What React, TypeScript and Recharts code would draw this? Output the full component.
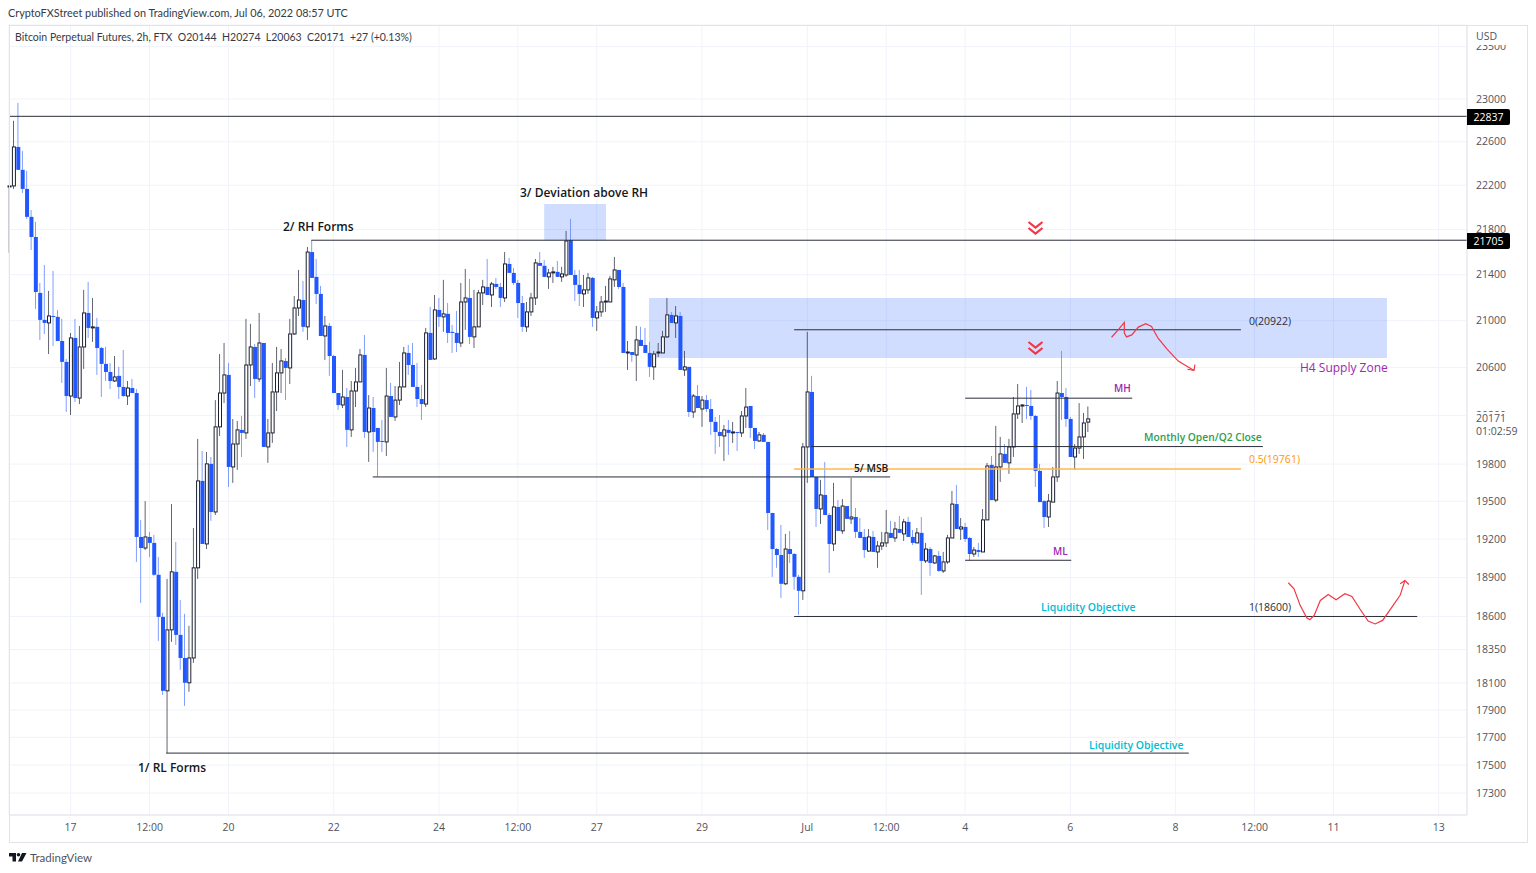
import { Bar, CartesianGrid, ComposedChart, Line, ReferenceArea, ReferenceLine, XAxis, YAxis } from "recharts";

// BTC perp 2h candles, one value per candle
const opens = [
  22185, 22194, 22552, 22341, 22167, 21914, 21734, 21241, 21007, 20981,
  21041, 21033, 20826, 20648, 20361, 20852, 20344, 20775, 21067, 20938,
  20947, 20766, 20631, 20563, 20487, 20530, 20437, 20361, 20428, 20386,
  19217, 19130, 19217, 19170, 18921, 18597, 18041, 18498, 18944, 18460,
  18286, 18101, 18286, 18975, 19664, 19162, 19802, 19415, 20105, 20386,
  20538, 19777, 19964, 20080, 20055, 20622, 20775, 20504, 20809, 19940,
  20055, 20395, 20555, 20656, 20597, 20886, 21110, 21179, 20947, 21600,
  21381, 21232, 20869, 20955, 20698, 20386, 20286, 20353, 20080, 20403,
  20479, 20707, 20063, 20261, 20096, 19989, 19981, 20361, 20187, 20327,
  20437, 20724, 20622, 20437, 20336, 20294, 20895, 20673, 21093, 21033,
  21059, 20904, 20895, 20809, 21162, 21197, 20861, 20947, 21241, 21293,
  21223, 21319, 21293, 21197, 21495, 21416, 21328, 21153, 20947, 21076,
  21197, 21504, 21478, 21381, 21416, 21425, 21381, 21398, 21707, 21398,
  21311, 21232, 21267, 21372, 21024, 21076, 21162, 21162, 21355, 21442,
  21293, 20724, 20732, 20707, 20835, 20792, 20724, 20606, 20724, 20724,
  20861, 21050, 20981, 21041, 20580, 20606, 20228, 20361, 20253, 20327,
  20253, 20146, 20063, 20030, 20080, 20055, 20063, 20055, 20195, 20278,
  20096, 19989, 20039, 19981, 19407, 19122, 19075, 18851, 19122, 19083,
  18905, 18797, 19940, 20395, 19696, 19439, 19551, 19391, 19162, 19455,
  19265, 19462, 19360, 19375, 19257, 19217, 19106, 19217, 19099, 19146,
  19170, 19249, 19209, 19280, 19241, 19336, 19217, 19170, 19249, 19029,
  19122, 19013, 19068, 18951, 19021, 19209, 19478, 19280, 19296, 19209,
  19083, 19114, 19099, 19352, 19794, 19510, 19777, 19883, 19810, 19940,
  20212, 20278, 20286, 20278, 20195, 19745, 19502, 19375, 19494, 19696,
  20386, 20353, 20170, 19858, 19931, 20022, 20144,
];
const highs = [
  22194, 22795, 22963, 22515, 22332, 21976, 21869, 21328, 21486, 21258,
  21433, 21093, 21016, 20673, 20895, 21016, 20955, 21267, 21337, 21197,
  21024, 20775, 20775, 20639, 20698, 20606, 20749, 20487, 20504, 20420,
  19352, 19502, 19257, 19233, 19060, 18628, 18889, 19478, 19178, 18727,
  18620, 18529, 19288, 20006, 19907, 19899, 19858, 20327, 20715, 20809,
  20639, 20170, 20154, 20195, 21016, 20973, 20800, 21067, 20809, 20170,
  20639, 20775, 20758, 20681, 21016, 21214, 21442, 21346, 21645, 21707,
  21539, 21302, 21041, 20981, 20707, 20386, 20580, 20428, 20487, 20597,
  20758, 20878, 20369, 20353, 20096, 20162, 20597, 20471, 20445, 20648,
  20775, 20792, 20809, 20639, 20454, 20938, 21119, 21223, 21197, 21355,
  21153, 20964, 21084, 21328, 21451, 21363, 21267, 21267, 21355, 21539,
  21337, 21372, 21328, 21600, 21548, 21460, 21355, 21214, 21162, 21241,
  21539, 21600, 21530, 21451, 21469, 21521, 21469, 21788, 21896, 21442,
  21442, 21398, 21416, 21381, 21127, 21214, 21302, 21390, 21557, 21442,
  21328, 20826, 20732, 20955, 20947, 20938, 20818, 20741, 20809, 20912,
  21197, 21076, 21127, 21076, 20741, 20606, 20378, 20454, 20361, 20369,
  20336, 20187, 20203, 20121, 20162, 20146, 20063, 20236, 20428, 20278,
  20096, 20063, 20055, 19981, 19407, 19130, 19312, 19241, 19265, 19091,
  18921, 19973, 20904, 20530, 19696, 19672, 19818, 19407, 19648, 19510,
  19518, 19462, 19688, 19447, 19367, 19280, 19280, 19265, 19185, 19257,
  19431, 19344, 19336, 19383, 19360, 19375, 19272, 19288, 19375, 19170,
  19138, 19075, 19106, 19099, 19233, 19583, 19632, 19367, 19328, 19217,
  19138, 19170, 19439, 19810, 19866, 20113, 20022, 19964, 20006, 20353,
  20462, 20294, 20437, 20412, 20203, 19802, 19510, 19559, 19777, 20487,
  20741, 20428, 20187, 19964, 20302, 20220, 20274,
];
const lows = [
  21592, 22167, 22341, 22130, 21896, 21618, 21102, 20835, 20886, 20715,
  20783, 20826, 20471, 20228, 20203, 20311, 20294, 20589, 20852, 20818,
  20538, 20353, 20487, 20420, 20479, 20336, 20353, 20286, 20386, 19021,
  18704, 19114, 19060, 18913, 18415, 18011, 17585, 18407, 18384, 18197,
  17930, 18034, 18249, 18889, 19162, 19122, 19344, 19391, 20030, 20302,
  19615, 19648, 19753, 19858, 20006, 20445, 20344, 20479, 19940, 19810,
  19973, 20236, 20386, 20327, 20462, 20878, 21041, 20904, 20835, 21372,
  21145, 20869, 20665, 20530, 20386, 20245, 20261, 19940, 20022, 20269,
  20479, 20014, 19818, 19899, 19696, 19899, 19866, 20187, 20154, 20286,
  20437, 20538, 20437, 20269, 20162, 20269, 20665, 20665, 20947, 20904,
  20809, 20724, 20732, 20775, 20921, 20800, 20766, 20947, 21136, 21223,
  21119, 21276, 21119, 21162, 21416, 21311, 21024, 20904, 20904, 21041,
  21136, 21478, 21381, 21276, 21328, 21381, 21337, 21381, 21398, 21170,
  21127, 21119, 21232, 20947, 20912, 21033, 21076, 21162, 21293, 21276,
  20724, 20580, 20648, 20487, 20783, 20724, 20521, 20496, 20690, 20724,
  20852, 20981, 20852, 20580, 20530, 20187, 20179, 20261, 20105, 20228,
  20039, 19883, 19940, 19826, 19875, 19973, 19907, 20022, 20096, 20014,
  19923, 19981, 19981, 19272, 18905, 18975, 18742, 18843, 19013, 18805,
  18613, 18727, 19648, 19696, 19296, 19320, 19391, 18936, 19106, 19265,
  19241, 19360, 19320, 19209, 19209, 19052, 19099, 19099, 18975, 19114,
  19138, 19209, 19178, 19249, 19185, 19217, 19154, 19170, 18766, 19013,
  18913, 19006, 18944, 18936, 19006, 19209, 19280, 19193, 19178, 19029,
  19060, 19060, 19099, 19352, 19510, 19494, 19656, 19810, 19721, 19858,
  20170, 20137, 20170, 20162, 19615, 19494, 19288, 19296, 19494, 19656,
  20162, 20105, 19858, 19753, 19883, 19842, 20063,
];
const closes = [
  22194, 22552, 22341, 22167, 21914, 21734, 21249, 21007, 20981, 21041,
  21033, 20826, 20648, 20361, 20852, 20344, 20775, 21067, 20938, 20947,
  20766, 20631, 20563, 20487, 20521, 20437, 20361, 20428, 20386, 19217,
  19130, 19217, 19170, 18921, 18597, 18041, 18498, 18944, 18460, 18286,
  18101, 18286, 18975, 19664, 19162, 19802, 19415, 20105, 20386, 20538,
  19777, 19964, 20080, 20055, 20622, 20775, 20504, 20809, 19940, 20055,
  20395, 20555, 20656, 20597, 20886, 21110, 21179, 20947, 21600, 21372,
  21232, 20869, 20955, 20698, 20386, 20286, 20353, 20080, 20403, 20479,
  20707, 20063, 20261, 20063, 19981, 19981, 20361, 20187, 20327, 20437,
  20724, 20622, 20437, 20336, 20294, 20895, 20665, 21093, 21033, 21059,
  20895, 20895, 20809, 21162, 21197, 20861, 20947, 21241, 21293, 21223,
  21319, 21293, 21197, 21495, 21416, 21328, 21153, 20947, 21076, 21197,
  21504, 21478, 21381, 21416, 21425, 21381, 21407, 21698, 21398, 21311,
  21232, 21267, 21372, 21024, 21076, 21162, 21170, 21363, 21442, 21293,
  20724, 20732, 20707, 20835, 20783, 20724, 20606, 20715, 20732, 20861,
  21050, 20981, 21041, 20580, 20606, 20228, 20361, 20261, 20327, 20253,
  20146, 20063, 20030, 20080, 20055, 20063, 20055, 20195, 20269, 20096,
  19989, 20039, 19981, 19407, 19122, 19075, 18851, 19122, 19083, 18905,
  18797, 19940, 20395, 19696, 19439, 19551, 19391, 19162, 19455, 19265,
  19462, 19360, 19375, 19257, 19209, 19114, 19217, 19099, 19146, 19170,
  19249, 19209, 19280, 19249, 19336, 19217, 19170, 19249, 19029, 19122,
  19013, 19068, 18951, 19021, 19209, 19478, 19280, 19296, 19201, 19083,
  19114, 19099, 19352, 19785, 19510, 19777, 19883, 19810, 19940, 20212,
  20278, 20286, 20278, 20195, 19745, 19494, 19375, 19502, 19696, 20386,
  20353, 20170, 19858, 19931, 20022, 20137, 20171,
];

// axis ticks: x is the candle slot, Jun 17 00:00 is slot 14
const slotTicks = [14, 32, 50, 74, 98, 116, 134, 158, 182, 200, 218, 242, 266, 284, 302, 326];
const slotLabels = ["17", "12:00", "20", "22", "24", "12:00", "27", "29", "Jul", "12:00", "4", "6", "8", "12:00", "11", "13"];
const priceTicks = [23500, 23000, 22600, 22200, 21800, 21400, 21000, 20600, 20200, 19800, 19500, 19200, 18900, 18600, 18350, 18100, 17900, 17700, 17500, 17300];

// drawn levels: [from slot, to slot, price, colour]
const levels: [number, number, number, string][] = [
  [68.9, 332.45, 21705, "#2a2e39"],
  [179, 280.9, 20922, "#2a2e39"],
  [179, 280.9, 19761, "#ffb74d"],
  [179, 321.1, 18600, "#2a2e39"],
  [82.9, 200.9, 19696, "#2a2e39"],
  [182.8, 285.9, 19943, "#2a2e39"],
  [218, 256.1, 20343, "#2a2e39"],
  [218, 242.2, 19034, "#2a2e39"],
  [35.8, 269, 17586, "#2a2e39"],
];

// hand drawn red arrows
const arrowTopSlots = [251.4, 252.9, 254.3, 254.3, 254.8, 256, 257.5, 259.2, 260.5, 262, 264.1, 266.6, 270.2];
const arrowTopPrices = [20858, 20922, 20985, 20893, 20861, 20878, 20945, 20974, 20950, 20850, 20754, 20655, 20576];
const arrowTopHeadSlots = [270.4, 270.2, 268.7];
const arrowTopHeadPrices = [20626, 20576, 20586];
const arrowLowSlots = [291.7, 293, 294.4, 295.9, 296.6, 297.6, 299, 300.8, 302.6, 304.6, 306.2, 308, 309.9, 311.5, 313.2, 315.6, 317.2, 318.3];
const arrowLowPrices = [18859, 18813, 18685, 18590, 18575, 18608, 18723, 18769, 18728, 18775, 18754, 18659, 18565, 18543, 18570, 18685, 18762, 18877];
const arrowLowHeadSlots = [317.2, 318.3, 319.2];
const arrowLowHeadPrices = [18851, 18877, 18846];

const BLUE = "#2157ff";
const INK = "#1c2030";
const RED = "#f23645";
const FONT = "'Open Sans', 'Noto Sans', sans-serif";
const LATO = "Lato, 'Open Sans', sans-serif";

const candles = opens.map((open, i) => ({
  slot: i,
  open,
  close: closes[i],
  wick: [lows[i], highs[i]],
  body: [Math.min(open, closes[i]), Math.max(open, closes[i])],
}));

const toPoints = (slots: number[], prices: number[]) => slots.map((slot, i) => ({ slot, price: prices[i] }));

const Wick = (props: any) => {
  const { x, y, width, height, payload } = props;
  return <rect x={x} y={y} width={width} height={height} fill={payload.close >= payload.open ? "#3a3e4a" : "#5f86ff"} />;
};

const Body = (props: any) => {
  const { x, y, width, height, payload } = props;
  const h = Math.max(height, 1);
  if (payload.close >= payload.open) {
    return <rect x={x} y={y} width={width} height={h} fill="#fff" stroke={INK} strokeWidth={1} />;
  }
  return <rect x={x - 0.5} y={y} width={width + 1} height={h} fill={BLUE} />;
};

const Note = ({ x, y, color = "#131722", size = 12, bold = false, font = FONT, children }: any) => (
  <div style={{ position: "absolute", left: x, top: y - 10, height: 20, lineHeight: "20px", fontSize: size, fontWeight: bold ? 600 : 400, fontFamily: font, color, whiteSpace: "nowrap" }}>
    {children}
  </div>
);

const PriceTag = ({ y, text }: { y: number; text: string }) => (
  <div style={{ position: "absolute", left: 1467, top: y - 8, width: 43, height: 16, lineHeight: "16px", background: "#000", color: "#fff", fontSize: 10.5, textAlign: "center", borderRadius: "0 2px 2px 0" }}>
    {text}
  </div>
);

const Chevrons = ({ y }: { y: number }) => (
  <svg style={{ position: "absolute", left: 1027, top: y, overflow: "visible" }} width={17} height={14} fill="none" stroke={RED} strokeWidth={2.2}>
    <polyline points="1.5,1 8.5,6.5 15.5,1" />
    <polyline points="1.5,7 8.5,12.5 15.5,7" />
  </svg>
);

export default function App() {
  return (
    <div style={{ position: "absolute", left: 0, top: 0, width: 1536, height: 873, background: "#fff", fontFamily: FONT, overflow: "hidden" }}>
      <ComposedChart width={1536} height={873} data={candles} margin={{ top: 25, right: 9, bottom: 31, left: 9 }}>
        <CartesianGrid stroke="#f0f3fa" />
        <XAxis
          type="number"
          dataKey="slot"
          domain={[-0.05, 332.45]}
          ticks={slotTicks}
          interval={0}
          height={27}
          tickFormatter={(v: number) => slotLabels[slotTicks.indexOf(v)]}
          tick={{ fontSize: 10.5, fill: "#50535e", fontFamily: FONT }}
          tickLine={false}
          tickSize={0}
          tickMargin={9}
          axisLine={{ stroke: "#e0e3eb" }}
        />
        <XAxis xAxisId="body" type="number" dataKey="slot" domain={[-0.05, 332.45]} hide />
        <YAxis
          orientation="right"
          scale="log"
          domain={[17145, 23709]}
          allowDataOverflow
          ticks={priceTicks}
          interval={0}
          width={60}
          tick={{ fontSize: 10.5, fill: "#50535e", fontFamily: FONT, textAnchor: "start" }}
          tickLine={false}
          tickSize={0}
          tickMargin={9}
          axisLine={{ stroke: "#e0e3eb" }}
        />
        <ReferenceArea x1={122} x2={136.1} y1={21705} y2={22029} fill="#2962ff" fillOpacity={0.22} stroke="none" />
        <ReferenceArea x1={145.9} x2={314.2} y1={20682} y2={21197} fill="#2962ff" fillOpacity={0.22} stroke="none" />
        <Bar dataKey="wick" barSize={1} shape={<Wick />} isAnimationActive={false} />
        <Bar xAxisId="body" dataKey="body" barSize={3} shape={<Body />} isAnimationActive={false} />
        <ReferenceLine y={22837} stroke="#2a2e39" />
        {levels.map(([a, b, price, color], i) => (
          <ReferenceLine
            key={i}
            segment={[{ x: a, y: price }, { x: b, y: price }]}
            stroke={color}
            strokeWidth={color === "#ffb74d" ? 1.5 : 1}
          />
        ))}
        <Line data={toPoints(arrowTopSlots, arrowTopPrices)} dataKey="price" stroke={RED} strokeWidth={1.2} dot={false} isAnimationActive={false} />
        <Line data={toPoints(arrowTopHeadSlots, arrowTopHeadPrices)} dataKey="price" stroke={RED} strokeWidth={1.2} dot={false} isAnimationActive={false} />
        <Line data={toPoints(arrowLowSlots, arrowLowPrices)} dataKey="price" stroke={RED} strokeWidth={1.2} dot={false} isAnimationActive={false} />
        <Line data={toPoints(arrowLowHeadSlots, arrowLowHeadPrices)} dataKey="price" stroke={RED} strokeWidth={1.2} dot={false} isAnimationActive={false} />
      </ComposedChart>

      <div style={{ position: "absolute", left: 9, top: 25, width: 1517, height: 816, border: "1px solid #e0e3eb", pointerEvents: "none" }} />

      <Note x={8} y={13} color="#363a45" size={10.85} font={LATO}>CryptoFXStreet published on TradingView.com, Jul 06, 2022 08:57 UTC</Note>
      <Note x={15} y={37} color="#363a45" size={10.5} font={LATO}>
        Bitcoin Perpetual Futures, 2h, FTX&nbsp;&nbsp;O20144&nbsp;&nbsp;H20274&nbsp;&nbsp;L20063&nbsp;&nbsp;C20171&nbsp;&nbsp;+27 (+0.13%)
      </Note>
      <div style={{ position: "absolute", left: 1476, top: 28, height: 17, width: 40, background: "#fff", fontSize: 10.5, lineHeight: "17px", color: "#50535e" }}>USD</div>

      <PriceTag y={117} text="22837" />
      <PriceTag y={241} text="21705" />
      <div style={{ position: "absolute", left: 1468, top: 412, width: 58, height: 28, background: "#fff", fontSize: 10.5, lineHeight: "13px", color: "#50535e", paddingLeft: 8, boxSizing: "border-box" }}>
        <div>20171</div>
        <div>01:02:59</div>
      </div>

      <Note x={520} y={193} bold>3/ Deviation above RH</Note>
      <Note x={283} y={227} bold>2/ RH Forms</Note>
      <Note x={138} y={768} bold>1/ RL Forms</Note>
      <Note x={854} y={468} size={10.25} bold>5/ MSB</Note>
      <Note x={1249} y={321} color="#2a2e39" size={10.5}>0(20922)</Note>
      <Note x={1249} y={459} color="#ff9800" size={10.5}>0.5(19761)</Note>
      <Note x={1249} y={607} color="#2a2e39" size={10.5}>1(18600)</Note>
      <Note x={1144} y={437} color="#2e9e4f" size={10.25} bold>Monthly Open/Q2 Close</Note>
      <Note x={1114} y={388} color="#9c27b0" size={10} bold>MH</Note>
      <Note x={1053} y={551} color="#9c27b0" size={10} bold>ML</Note>
      <Note x={1300} y={368} color="#9c27b0" size={12}>H4 Supply Zone</Note>
      <Note x={1041} y={607} color="#00bcd4" size={10.5} bold>Liquidity Objective</Note>
      <Note x={1089} y={745} color="#00bcd4" size={10.5} bold>Liquidity Objective</Note>

      <Chevrons y={221} />
      <Chevrons y={341} />

      <svg style={{ position: "absolute", left: 9, top: 853 }} width={18} height={9}>
        <path d="M0 0H7V8.5H3.5V3.4H0Z M13 0H17.5L13 8.5H9Z" fill="#131722" />
        <circle cx={9.5} cy={1.8} r={1.8} fill="#131722" />
      </svg>
      <Note x={30} y={858} color="#50535e" size={11.5} font={LATO}>TradingView</Note>
    </div>
  );
}
